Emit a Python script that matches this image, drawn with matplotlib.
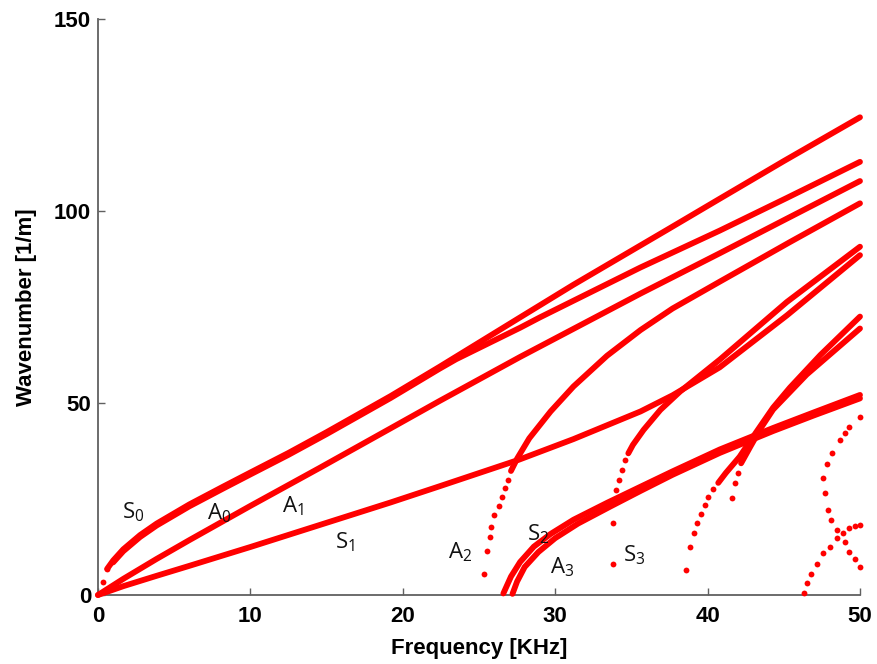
import matplotlib
matplotlib.use("Agg")
import matplotlib.pyplot as plt

# ---------------------------------------------------------------
# Dispersion curves: wavenumber [1/m] versus frequency [kHz]
# Dense branches are drawn as thick traces, sparse branches as dots.
# ---------------------------------------------------------------

# S0 band: two almost coincident branches that separate above ~23 kHz
s0_dots_f = [0.35, 0.6]
s0_dots_k = [3.5, 6.8]
s0a_f = [0.6, 1.0, 1.66, 2.76, 3.85, 6.0, 8.2, 10.0, 12.5, 15.0, 19.2, 22.4, 27.7, 31.2, 37.3, 40.8, 45.0, 50.0]
s0a_k = [6.8, 9.0, 11.9, 15.6, 18.6, 23.6, 28.2, 31.9, 37.0, 42.4, 51.8, 59.4, 72.3, 80.8, 95.0, 103.2, 113.0, 124.4]
s0b_f = [1.0, 1.66, 2.76, 3.85, 6.0, 8.2, 10.0, 12.5, 15.0, 19.2, 22.4, 23.5, 27.7, 29.0, 35.6, 40.8, 45.2, 50.0]
s0b_k = [8.5, 11.4, 15.1, 18.1, 23.1, 27.7, 31.4, 36.5, 41.9, 51.3, 58.9, 61.4, 69.6, 72.3, 85.3, 94.9, 103.4, 112.8]

# A0
a0_f = [0.0, 1.66, 3.85, 6.0, 8.2, 10.0, 14.5, 19.2, 22.4, 27.7, 35.6, 40.8, 45.0, 50.0]
a0_k = [0.0, 4.2, 9.4, 14.3, 19.2, 23.2, 33.0, 43.4, 50.5, 62.0, 78.5, 89.0, 97.6, 107.8]

# S1
s1_f = [0.0, 1.66, 3.85, 6.0, 8.2, 10.0, 14.6, 19.2, 22.4, 27.6, 31.2, 35.6, 37.7, 40.8, 45.2, 50.0]
s1_k = [0.0, 2.3, 5.0, 7.6, 10.3, 12.5, 18.3, 24.1, 28.3, 35.2, 40.6, 47.8, 52.0, 59.3, 72.8, 88.5]

# A2 (cut-off near 25 kHz)
a2_dots_f = [25.3, 25.5, 25.7, 25.8, 26.0, 26.3, 26.5, 26.7, 26.9]
a2_dots_k = [5.4, 11.4, 15.2, 17.8, 20.8, 23.2, 25.6, 27.8, 29.9]
a2_f = [27.1, 27.5, 28.3, 29.7, 31.2, 33.4, 35.6, 37.7, 40.8, 45.4, 50.0]
a2_k = [32.3, 35.5, 40.8, 47.8, 54.3, 62.3, 69.0, 74.6, 81.6, 91.9, 102.0]

# S2 and A3 (nearly coincident band)
s2_f = [26.6, 27.1, 27.7, 28.6, 29.7, 31.2, 33.4, 35.6, 37.7, 40.8, 44.3, 47.0, 50.0]
s2_k = [0.4, 4.8, 8.6, 12.6, 15.9, 19.6, 24.0, 28.2, 32.2, 37.9, 43.5, 47.6, 52.1]
a3_f = [27.2, 27.5, 28.0, 28.9, 30.0, 31.5, 33.6, 35.6, 37.7, 40.8, 44.3, 47.0, 50.0]
a3_k = [0.3, 3.5, 7.3, 11.2, 14.8, 18.6, 23.0, 27.1, 31.3, 37.0, 42.7, 46.8, 51.2]

# S3 (cut-off near 34 kHz)
s3_dots_f = [33.8, 33.8, 33.85, 34.0, 34.2, 34.4, 34.6]
s3_dots_k = [8.2, 18.8, 24.7, 27.3, 29.9, 32.6, 35.2]
s3_f = [34.8, 35.1, 35.8, 36.9, 38.2, 40.8, 45.2, 50.0]
s3_k = [36.9, 39.1, 43.0, 48.2, 53.0, 61.3, 76.3, 90.7]

# Higher branch with cut-off near 38.6 kHz
p_dots_f = [38.6, 38.85, 39.1, 39.3, 39.55, 39.8, 40.05, 40.35]
p_dots_k = [6.5, 12.6, 16.1, 18.7, 21.0, 23.5, 25.6, 27.5]
p_f = [40.7, 41.2, 42.1, 43.0, 44.3, 45.4, 47.4, 50.0]
p_k = [29.2, 31.8, 36.0, 41.3, 48.8, 54.0, 62.5, 72.5]

# Higher branch starting near 41.6 kHz
q_dots_f = [41.6, 41.8, 42.0]
q_dots_k = [25.2, 29.1, 31.7]
q_f = [42.2, 42.8, 43.5, 44.3, 46.5, 50.0]
q_k = [34.3, 38.6, 43.5, 48.3, 57.4, 69.4]

# Branch with cut-off near 46.3 kHz
t_f = [46.3, 46.5, 46.8, 47.2, 47.6, 48.0, 48.5, 48.9, 49.3, 49.65, 50.0]
t_k = [0.4, 3.0, 5.6, 8.2, 10.9, 12.6, 14.8, 16.1, 17.4, 17.9, 18.2]

# Backward-bending branch (turning point near 47.6 kHz)
r_f = [50.0, 49.7, 49.3, 49.0, 48.5, 48.1, 47.9, 47.7, 47.6, 47.85, 48.15, 48.7, 49.0, 49.3, 50.0]
r_k = [7.4, 9.5, 11.3, 13.9, 17.0, 19.5, 22.1, 26.5, 30.6, 34.0, 36.9, 40.4, 42.2, 43.8, 46.4]

# Mode labels
mode_names = ["S", "A", "A", "S", "A", "S", "A", "S"]
mode_orders = ["0", "0", "1", "1", "2", "2", "3", "3"]
mode_f = [1.55, 7.13, 12.05, 15.55, 23.0, 28.12, 29.66, 34.47]
mode_k = [20.0, 19.8, 21.4, 12.2, 9.55, 14.1, 5.65, 8.7]

x_ticks = [0, 10, 20, 30, 40, 50]
y_ticks = [0, 50, 100, 150]

# ---------------------------------------------------------------
plt.rcParams["mathtext.fontset"] = "custom"
plt.rcParams["mathtext.rm"] = "Open Sans"
plt.rcParams["mathtext.it"] = "Open Sans:italic"
plt.rcParams["mathtext.bf"] = "Open Sans:bold"

RED = "#ff0000"
AXIS_GRAY = "#606060"
LW = 4.2
MS = 4.2

fig = plt.figure(figsize=(8.77, 6.64), dpi=100)
ax = fig.add_axes([0.1117, 0.1039, 0.8689, 0.8675])


def trace(f, k):
    ax.plot(f, k, color=RED, lw=LW, solid_capstyle="round",
            solid_joinstyle="round", clip_on=False, zorder=3)


def dots(f, k):
    ax.plot(f, k, linestyle="none", marker="o", ms=MS, mew=0,
            mfc=RED, clip_on=False, zorder=3)


for f, k in [(s0a_f, s0a_k), (s0b_f, s0b_k), (a0_f, a0_k), (s1_f, s1_k),
             (a2_f, a2_k), (s2_f, s2_k), (a3_f, a3_k), (s3_f, s3_k),
             (p_f, p_k), (q_f, q_k)]:
    trace(f, k)

for f, k in [(s0_dots_f, s0_dots_k), (a2_dots_f, a2_dots_k),
             (s3_dots_f, s3_dots_k), (p_dots_f, p_dots_k),
             (q_dots_f, q_dots_k), (t_f, t_k), (r_f, r_k)]:
    dots(f, k)

for name, order, f, k in zip(mode_names, mode_orders, mode_f, mode_k):
    ax.text(f, k, r"$\mathrm{%s}_{%s}$" % (name, order), fontsize=16,
            color="#111111", ha="left", va="baseline", zorder=4)

ax.set_xlim(0, 50)
ax.set_ylim(0, 150)
ax.set_xticks(x_ticks)
ax.set_yticks(y_ticks)

for side in ("top", "right"):
    ax.spines[side].set_visible(False)
for side in ("left", "bottom"):
    ax.spines[side].set_color(AXIS_GRAY)
    ax.spines[side].set_linewidth(1.3)

ax.tick_params(direction="in", length=5, width=1.0, color=AXIS_GRAY,
               labelcolor="black")
ax.tick_params(axis="x", pad=8)
ax.tick_params(axis="y", pad=5)
for lab in ax.get_xticklabels() + ax.get_yticklabels():
    lab.set_fontfamily("Liberation Sans")
    lab.set_fontweight("bold")
    lab.set_fontsize(16)

ax.set_xlabel("Frequency [KHz]", fontsize=16, fontweight="bold",
              family="Liberation Sans")
ax.set_ylabel("Wavenumber [1/m]", fontsize=16, fontweight="bold",
              family="Liberation Sans")
ax.xaxis.set_label_coords(0.5, -0.075)
ax.yaxis.set_label_coords(-0.08, 0.5)

fig.savefig("out.png", dpi=100)
